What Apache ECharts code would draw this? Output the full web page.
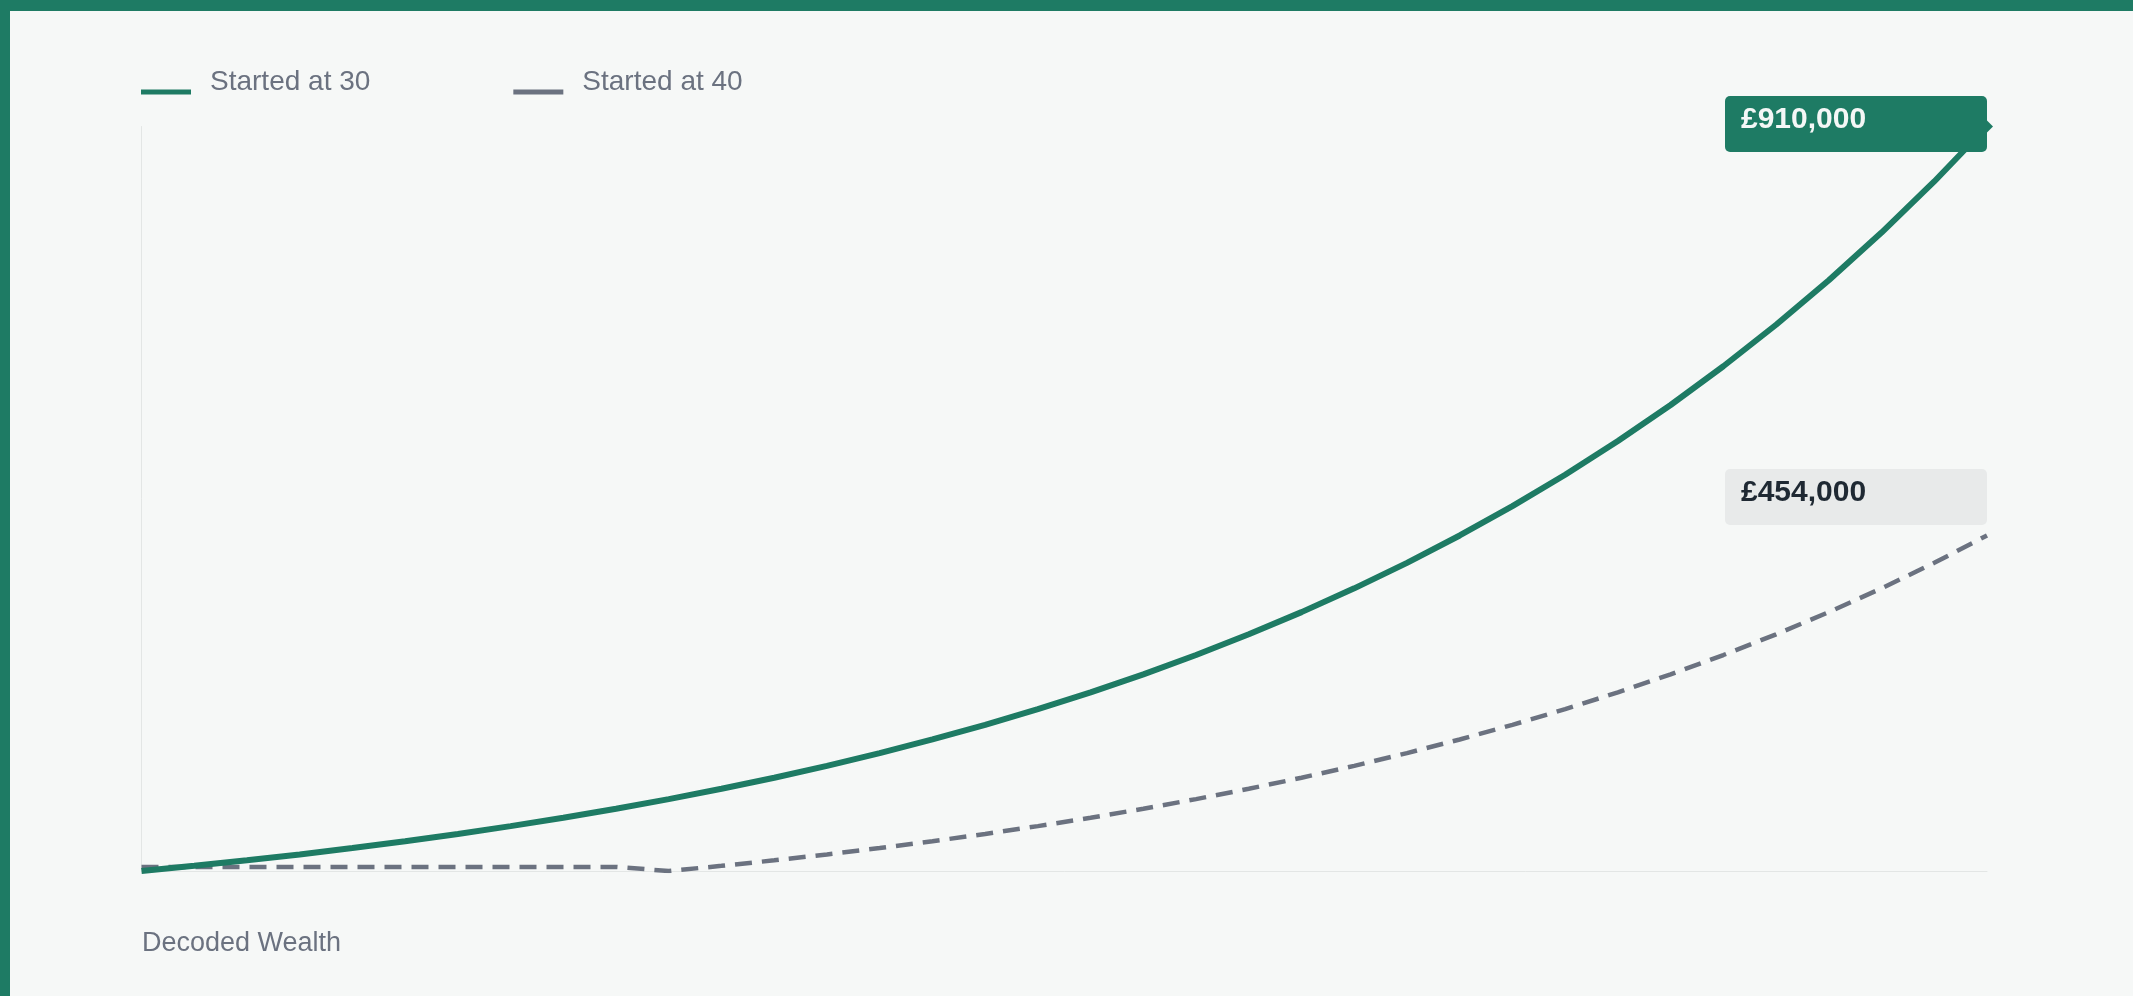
<!DOCTYPE html>
<html>
<head>
<meta charset="utf-8">
<script src="https://cdn.jsdelivr.net/npm/echarts@6/dist/echarts.min.js"></script>
<style>
  html, body { margin: 0; padding: 0; width: 2133px; height: 996px; background: #f6f8f7; overflow: hidden; }
  #chart { position: absolute; left: 0; top: 0; width: 2133px; height: 996px; }
  .bt { position: absolute; left: 0; top: 0; width: 2133px; height: 11px; background: #1e7b64; }
  .bl { position: absolute; left: 0; top: 0; width: 10px; height: 996px; background: #1e7b64; }
</style>
</head>
<body>
<div id="chart"></div>
<div class="bt"></div>
<div class="bl"></div>
<script>
// ---- data ----
const ages = ['30','31','32','33','34','35','36','37','38','39','40','41','42','43','44','45','46','47','48','49','50','51','52','53','54','55','56','57','58','59','60','61','62','63','64','65'];
const seriesNames = ['Started at 30', 'Started at 40'];
const startedAt30 = [0, 6300, 13050, 20290, 28050, 36370, 45290, 54850, 65100, 76090, 87870, 100500, 114030, 128540, 144100, 160770, 178650, 197810, 218350, 240380, 263980, 289290, 316420, 345500, 376680, 410100, 445930, 484330, 525500, 569640, 616950, 667680, 722050, 780330, 842820, 910000];
const startedAt40 = [5000, 5000, 5000, 5000, 5000, 5000, 5000, 5000, 5000, 5000, 0, 6300, 13050, 20290, 28050, 36370, 45290, 54850, 65100, 76090, 87870, 100500, 114030, 128540, 144100, 160770, 178650, 197810, 218350, 240380, 263980, 289290, 316420, 345500, 376680, 410100];
const endLabels = [910000, 454000];
const sourceText = 'Decoded Wealth';

const GREEN = '#1e7b64';
const GREY = '#6b7280';
const FONT = '"Liberation Sans", Arial, Helvetica, sans-serif';

function gbp(v) { return '£' + v.toLocaleString('en-GB'); }

const chart = echarts.init(document.getElementById('chart'), null, { renderer: 'canvas' });

function tagItem(value, bg, fg) {
  return {
    coord: [ages[ages.length - 1], value],
    value: value,
    symbol: 'circle',
    symbolSize: 0,
    itemStyle: { color: 'transparent' },
    label: {
      show: true,
      position: 'left',
      distance: 0,
      offset: [0, -2.5],
      formatter: (p) => '{v|' + gbp(p.value) + '}',
      backgroundColor: bg,
      borderRadius: 5,
      padding: [9, 0, 17, 16],
      rich: {
        v: {
          width: 246, align: 'left', color: fg, fontFamily: FONT,
          fontSize: 30, fontWeight: 'bold', lineHeight: 30
        }
      }
    }
  };
}

chart.setOption({
  animation: false,
  backgroundColor: 'transparent',
  textStyle: { fontFamily: FONT },
  title: {
    text: sourceText,
    left: 142,
    top: 930,
    padding: 0,
    textStyle: { fontFamily: FONT, fontSize: 27, fontWeight: 'normal', color: GREY }
  },
  legend: {
    left: 141,
    top: 68.5,
    padding: 0,
    icon: 'rect',
    itemWidth: 50,
    itemHeight: 5,
    itemGap: 143,
    itemStyle: { borderWidth: 0 },
    formatter: (name) => '{t|' + name + '}\n{s| }',
    textStyle: {
      fontFamily: FONT, fontSize: 28, color: GREY,
      padding: [0, 0, 0, 14],
      rich: {
        t: { fontFamily: FONT, fontSize: 28, color: GREY, lineHeight: 30 },
        s: { fontSize: 10, lineHeight: 19, height: 19 }
      }
    },
    data: seriesNames
  },
  grid: { left: 141.5, right: 146, top: 126.5, bottom: 125, containLabel: false },
  xAxis: {
    type: 'category',
    data: ages,
    boundaryGap: false,
    axisLine: { show: true, lineStyle: { color: '#e3e6e5', width: 1 } },
    axisTick: { show: false },
    axisLabel: { show: false },
    splitLine: { show: false }
  },
  yAxis: {
    type: 'value',
    min: 0,
    max: Math.max(...startedAt30),
    axisLine: { show: true, lineStyle: { color: '#e3e6e5', width: 1 } },
    axisTick: { show: false },
    axisLabel: { show: false },
    splitLine: { show: false }
  },
  series: [
    {
      name: seriesNames[0],
      type: 'line',
      data: startedAt30,
      showSymbol: false,
      symbol: 'none',
      color: GREEN,
      lineStyle: { color: GREEN, width: 6 },
      z: 3,
      markPoint: {
        silent: true,
        data: [
          {
            coord: [ages[ages.length - 1], startedAt30[startedAt30.length - 1]],
            symbol: 'triangle',
            symbolRotate: -90,
            symbolSize: [24, 12],
            itemStyle: { color: GREEN },
            label: { show: false }
          },
          tagItem(endLabels[0], GREEN, '#f4f7f6')
        ]
      }
    },
    {
      name: seriesNames[1],
      type: 'line',
      data: startedAt40,
      showSymbol: false,
      symbol: 'none',
      color: GREY,
      lineStyle: { color: GREY, width: 4.5, type: [17, 10] },
      z: 2,
      markPoint: {
        silent: true,
        data: [tagItem(endLabels[1], '#e8eaea', '#1f2933')]
      }
    }
  ]
});
</script>
</body>
</html>
